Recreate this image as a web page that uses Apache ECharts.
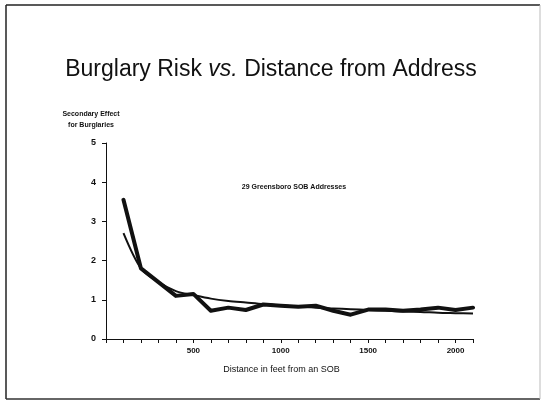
<!DOCTYPE html>
<html>
<head>
<meta charset="utf-8">
<script src="https://cdn.jsdelivr.net/npm/echarts@6/dist/echarts.min.js"></script>
<style>
  html, body { margin: 0; padding: 0; background: #fff; }
  #chart { width: 544px; height: 402px; }
</style>
</head>
<body>
<div id="chart"></div>
<script>
// distance in feet from an SOB
const distances = [100, 200, 300, 400, 500, 600, 700, 800, 900, 1000, 1100,
  1200, 1300, 1400, 1500, 1600, 1700, 1800, 1900, 2000, 2100]
// observed secondary effect (thick line)
const observed = [3.55, 1.8, 1.45, 1.1, 1.15, 0.72, 0.8, 0.74, 0.88, 0.85, 0.82,
  0.85, 0.72, 0.62, 0.75, 0.75, 0.72, 0.75, 0.8, 0.74, 0.8]
// fitted curve (thin line)
const fitted = [2.7, 1.8, 1.45, 1.22, 1.12, 1.03, 0.97, 0.93, 0.89, 0.86, 0.83,
  0.8, 0.78, 0.76, 0.74, 0.72, 0.7, 0.69, 0.67, 0.66, 0.65]
const xLabels = [500, 1000, 1500, 2000]

const font = '"Liberation Sans", Arial, sans-serif'
const chart = echarts.init(document.getElementById('chart'))

const pairs = (ys) => distances.map((d, i) => [d, ys[i]])

const option = {
  backgroundColor: '#fff',
  animation: false,
  title: [
    {
      text: 'Burglary Risk {i|vs.} Distance from Address',
      left: 266,
      top: 53,
      textAlign: 'center',
      textStyle: {
        fontFamily: font,
        fontSize: 23,
        fontWeight: 'normal',
        color: '#111',
        rich: {
          i: { fontFamily: font, fontSize: 23, fontStyle: 'italic', color: '#111' }
        }
      }
    },
    {
      text: 'Secondary Effect\nfor Burglaries',
      left: 86,
      top: 104,
      textAlign: 'center',
      textStyle: {
        fontFamily: font,
        fontSize: 7,
        fontWeight: 'bold',
        lineHeight: 11,
        color: '#111'
      }
    },
    {
      text: '29 Greensboro SOB Addresses',
      left: 289,
      top: 179,
      textAlign: 'center',
      textStyle: { fontFamily: font, fontSize: 7, fontWeight: 'bold', color: '#111' }
    }
  ],
  grid: { left: 106, right: 71, top: 143, bottom: 63 },
  xAxis: {
    type: 'value',
    min: 0,
    max: 2100,
    interval: 100,
    name: 'Distance in feet from an SOB',
    nameLocation: 'middle',
    nameGap: 26,
    nameTextStyle: { fontFamily: font, fontSize: 9, color: '#111', padding: [0, 16, 0, 0] },
    axisLine: { lineStyle: { color: '#111', width: 1 } },
    axisTick: { length: 4, lineStyle: { color: '#111' } },
    splitLine: { show: false },
    axisLabel: {
      margin: 8,
      fontFamily: font,
      fontSize: 8,
      fontWeight: 'bold',
      color: '#111',
      formatter: (v) => (xLabels.includes(v) ? String(v) : '')
    }
  },
  yAxis: {
    type: 'value',
    min: 0,
    max: 5,
    interval: 1,
    axisLine: { show: true, lineStyle: { color: '#111', width: 1 } },
    axisTick: { show: true, length: 4, lineStyle: { color: '#111' } },
    splitLine: { show: false },
    axisLabel: { margin: 10, fontFamily: font, fontSize: 9, fontWeight: 'bold', color: '#111' }
  },
  series: [
    {
      name: 'fitted',
      type: 'line',
      data: pairs(fitted),
      symbol: 'none',
      smooth: 0.3,
      lineStyle: { color: '#111', width: 2 }
    },
    {
      name: 'observed',
      type: 'line',
      data: pairs(observed),
      symbol: 'none',
      lineStyle: { color: '#111', width: 4, join: 'round', cap: 'round' }
    }
  ],
  graphic: [
    { type: 'line', shape: { x1: 6, y1: 5, x2: 540, y2: 5 }, style: { stroke: '#222', lineWidth: 1.5 } },
    { type: 'line', shape: { x1: 6, y1: 5, x2: 6, y2: 399 }, style: { stroke: '#222', lineWidth: 1.5 } },
    { type: 'line', shape: { x1: 6, y1: 399, x2: 540, y2: 399 }, style: { stroke: '#333', lineWidth: 1.5 } },
    { type: 'line', shape: { x1: 540, y1: 5, x2: 540, y2: 399 }, style: { stroke: '#bbb', lineWidth: 1 } }
  ]
}

chart.setOption(option)
</script>
</body>
</html>
